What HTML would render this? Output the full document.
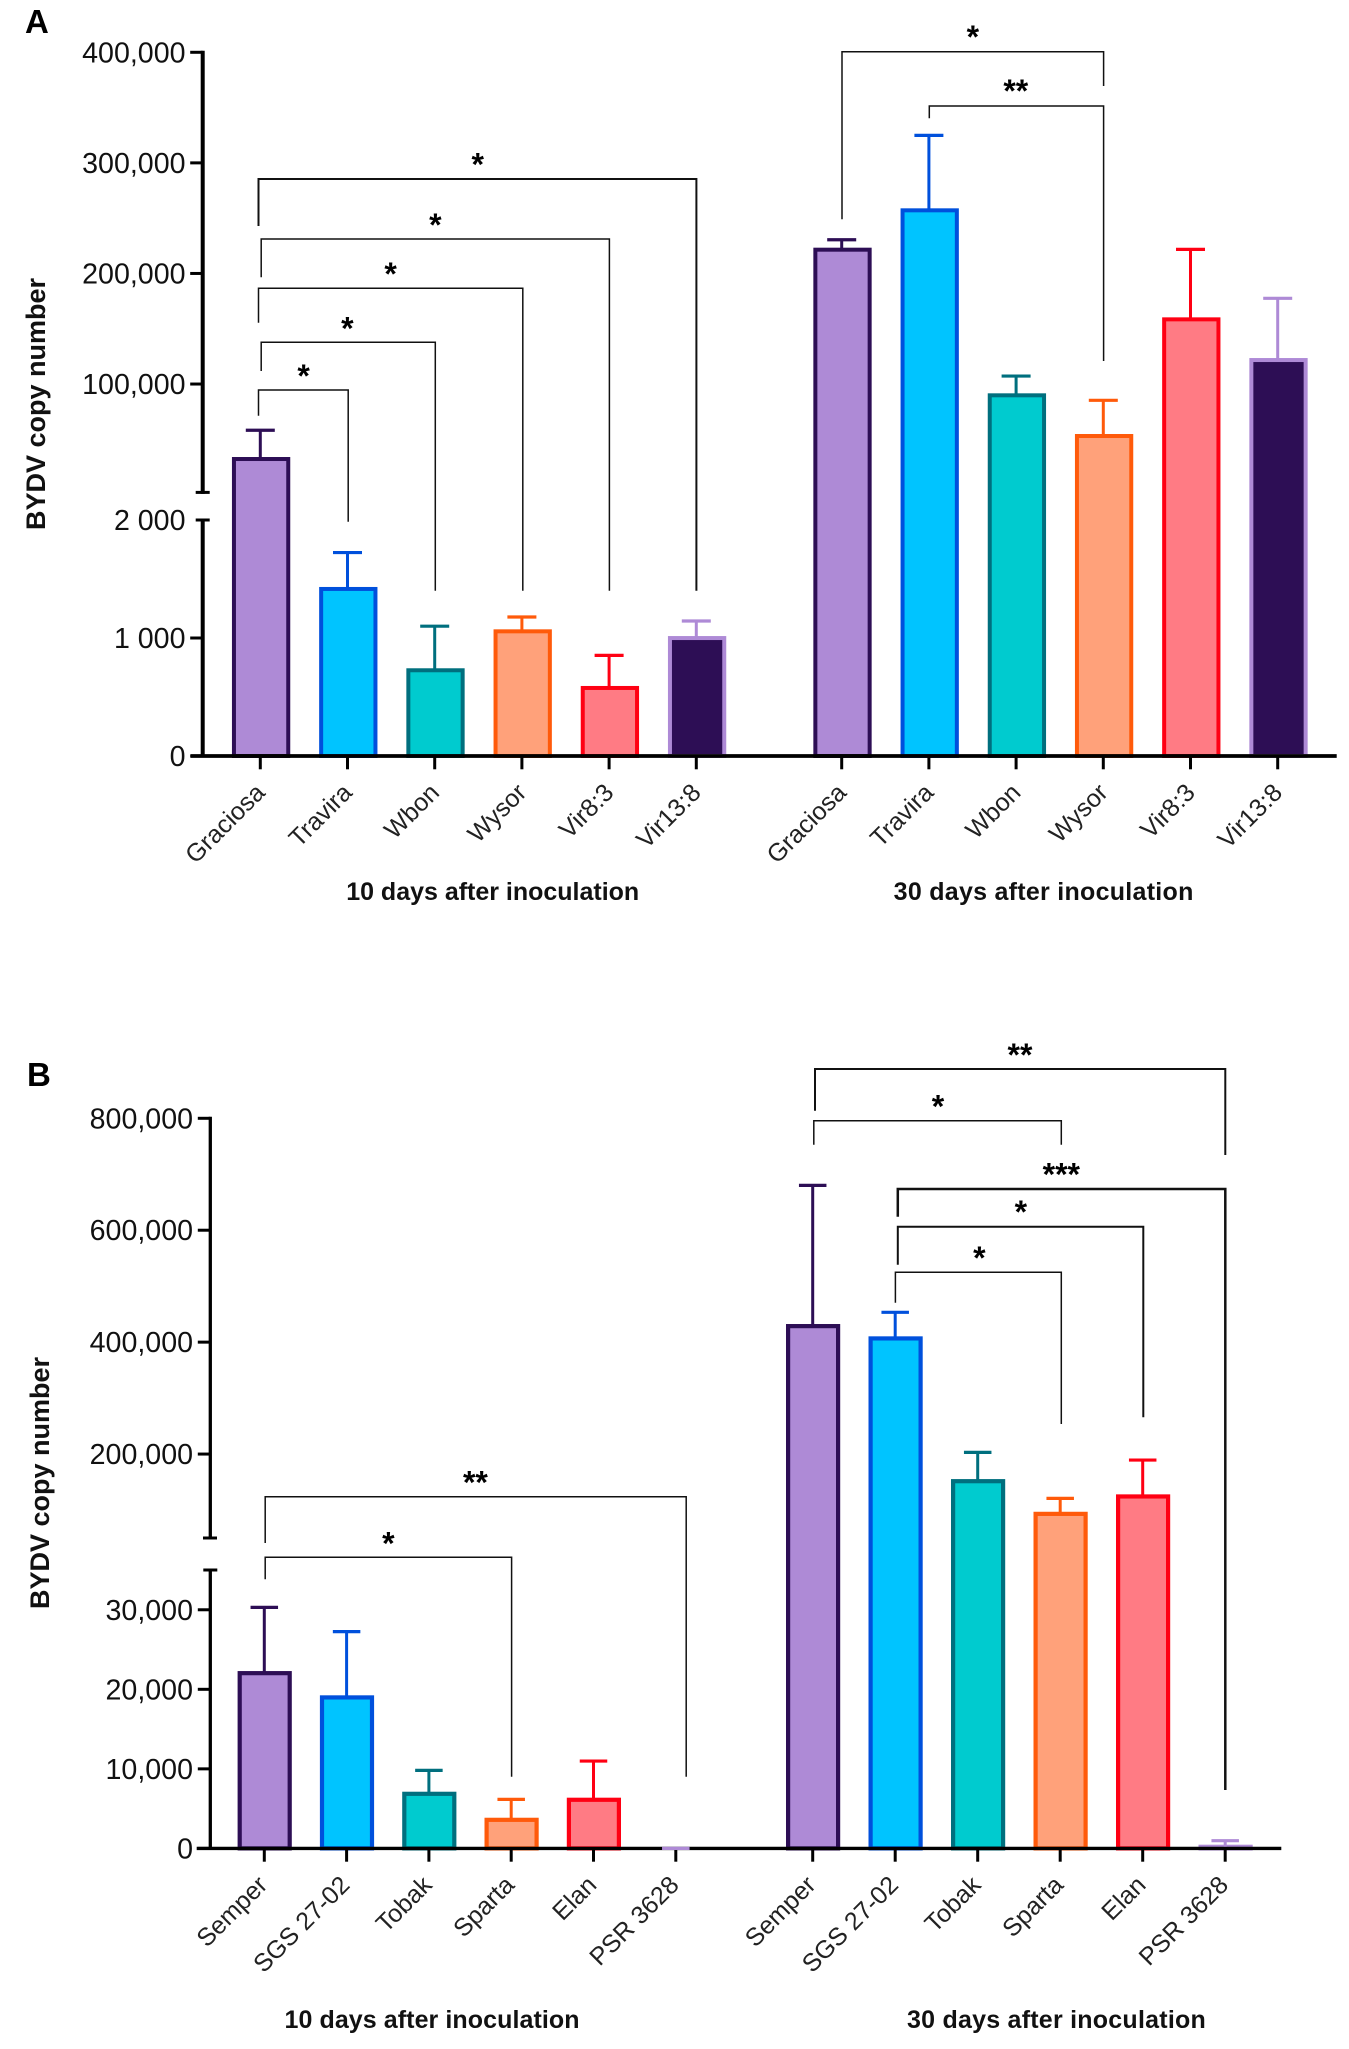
<!DOCTYPE html>
<html lang="en">
<head>
<meta charset="utf-8">
<title>BYDV copy number</title>
<style>
html,body{margin:0;padding:0;background:#fff;}
svg{display:block;font-family:"Liberation Sans",sans-serif;}
.tick{font-size:28.6px;fill:#111;}
.cat{font-size:25px;fill:#222;}
.ttl{font-size:25px;font-weight:bold;fill:#111;}
.yt{font-size:27px;font-weight:bold;fill:#111;}
.let{font-size:33px;font-weight:bold;fill:#000;}
.star{font-size:32px;font-weight:bold;fill:#000;}
</style>
</head>
<body>
<svg id="fig" xmlns="http://www.w3.org/2000/svg" width="1349" height="2049" viewBox="0 0 1349 2049">
  <rect x="0" y="0" width="1349" height="2049" fill="#fff"/>
  <text class="let" x="25" y="33">A</text>
  <text class="let" x="27" y="1086">B</text>
  <text class="yt" text-anchor="middle" transform="translate(45,404) rotate(-90)">BYDV copy number</text>
  <text class="yt" text-anchor="middle" transform="translate(49,1483) rotate(-90)">BYDV copy number</text>
  <text class="ttl" text-anchor="middle" x="492.7" y="900" textLength="293" lengthAdjust="spacing">10 days after inoculation</text>
  <text class="ttl" text-anchor="middle" x="1043.5" y="900" textLength="299.7" lengthAdjust="spacing">30 days after inoculation</text>
  <text class="ttl" text-anchor="middle" x="432" y="2028" textLength="295" lengthAdjust="spacing">10 days after inoculation</text>
  <text class="ttl" text-anchor="middle" x="1056.4" y="2028" textLength="298.8" lengthAdjust="spacing">30 days after inoculation</text>
</svg>
<script>
// Panel A data
const panelACategories = ['Graciosa', 'Travira', 'Wbon', 'Wysor', 'Vir8:3', 'Vir13:8'];
const panelA10dMeans = [33100, 1424, 735, 1065, 585, 1008];
const panelA10dErrorTops = [58200, 1724, 1100, 1178, 853, 1144];
const panelA30dMeans = [222400, 258000, 90700, 53900, 159400, 122600];
const panelA30dErrorTops = [230500, 324900, 107200, 85300, 221800, 177500];
const panelAUpperTicks = [400000, 300000, 200000, 100000];
const panelAUpperTickLabels = ['400,000', '300,000', '200,000', '100,000'];
const panelALowerTicks = [2000, 1000, 0];
const panelALowerTickLabels = ['2 000', '1 000', '0'];

// Panel B data
const panelBCategories = ['Semper', 'SGS 27-02', 'Tobak', 'Sparta', 'Elan', 'PSR 3628'];
const panelB10dMeans = [22170, 19120, 7000, 3730, 6250, 0];
const panelB10dErrorTops = [30300, 27250, 9810, 6160, 10980, 0];
const panelB30dMeans = [430600, 408600, 153500, 95100, 126200, 340];
const panelB30dErrorTops = [680200, 453300, 203000, 120800, 189300, 970];
const panelBUpperTicks = [800000, 600000, 400000, 200000];
const panelBUpperTickLabels = ['800,000', '600,000', '400,000', '200,000'];
const panelBLowerTicks = [35000, 30000, 20000, 10000, 0];
const panelBLowerTickLabels = ['', '30,000', '20,000', '10,000', '0'];

const fills = ['#AE8AD6', '#00C4FF', '#00CBCF', '#FFA17A', '#FF7B84', '#2D0E55'];
const strokes = ['#2D0E55', '#0050DC', '#006F7E', '#FF5A0A', '#FF0013', '#AE8AD6'];

const svg = document.getElementById('fig');
const NS = 'http://www.w3.org/2000/svg';

function mk(tag, attrs) {
  const n = document.createElementNS(NS, tag);
  for (const k in attrs) n.setAttribute(k, attrs[k]);
  svg.appendChild(n);
  return n;
}
function linear(d0, d1, r0, r1) {
  return v => r0 + (v - d0) * (r1 - r0) / (d1 - d0);
}
function slug(s) {
  return s.toLowerCase().replace(/[^a-z0-9]+/g, '-');
}

function yScaleA(v) {
  return v <= 2000 ? linear(0, 2000, 756, 520)(v) : linear(2000, 400000, 492.4, 52.3)(v);
}
function yScaleB(v) {
  return v <= 35000 ? linear(0, 35000, 1848.4, 1570)(v) : linear(50000, 800000, 1538, 1118.3)(v);
}

function drawBars(pfx, cats, means, y, xOf, o) {
  cats.forEach((c, i) => {
    const x = xOf(i) + o.barDx;
    const yTop = y(means[i]) - 1;
    const bar = mk('rect', {x: x - o.barW / 2 + o.sw / 2, y: yTop + o.sw / 2, width: o.barW - o.sw, height: Math.max(0, o.base - yTop - o.sw / 2), fill: fills[i], stroke: strokes[i], 'stroke-width': o.sw});
    
    
  });
}

function drawErrors(pfx, cats, means, tops, y, xOf, o) {
  cats.forEach((c, i) => {
    const x = xOf(i);
    const yTop = y(means[i]);
    const yCap = y(tops[i]);
    const col = strokes[i];
    const ln = mk('line', {x1: x, x2: x, y1: yTop + 1, y2: yCap, stroke: col, 'stroke-width': 3});
    
    
    const cap = mk('line', {x1: x - o.capW / 2, x2: x + o.capW / 2, y1: yCap, y2: yCap, stroke: col, 'stroke-width': 3.2});
    
    
  });
}

function drawXTicks(pfx, cats, xOf, o) {
  cats.forEach((c, i) => {
    const x = xOf(i);
    const t = mk('line', {x1: x, x2: x, y1: o.base, y2: o.base + 13.3, stroke: '#000', 'stroke-width': 3});
    
    
    const lab = mk('text', {class: 'cat', 'text-anchor': 'end', transform: 'translate(' + (x + o.labDx) + ',' + (o.base + 38) + ') rotate(-45)'});
    lab.textContent = c;
    
    
  });
}

function drawYAxis(pfx, ticks, labels, y, o, breakVals) {
  ticks.forEach((v, i) => {
    const yy = y(v);
    const isBreak = breakVals.indexOf(v) >= 0;
    const x1 = isBreak ? o.axisX - 7 : o.axisX - 12.5;
    const x2 = isBreak ? o.axisX + 7 : o.axisX;
    const t = mk('line', {x1: x1, x2: x2, y1: yy, y2: yy, stroke: '#000', 'stroke-width': 3});
    
    
    if (labels[i]) {
      const lab = mk('text', {class: 'tick', 'text-anchor': 'end', x: o.labX, y: yy + 10});
      lab.textContent = labels[i];
      
      
    }
  });
}

function bracket(name, x1, x2, top, leftEnd, rightEnd, stars, sx, sy, w) {
  const p = mk('path', {d: 'M' + x1 + ' ' + leftEnd + 'V' + top + 'H' + x2 + 'V' + rightEnd, fill: 'none', stroke: '#111', 'stroke-width': w || 1.5});
  
  
  const s = mk('text', {class: 'star', 'text-anchor': 'middle', x: sx, y: sy + 15.5});
  s.textContent = stars;
  
  
}

// ---------- Panel A ----------
const optA = {base: 756, axisX: 202.7, labX: 185.5, barW: 58.3, sw: 4, capW: 29, labDx: 6, barDx: 0.8};
const xA10 = i => 260.3 + i * 87.2;
const xA30 = i => 841.7 + i * 87.2;
drawBars('panel-a-10d', panelACategories, panelA10dMeans, yScaleA, xA10, optA);
drawBars('panel-a-30d', panelACategories, panelA30dMeans, yScaleA, xA30, optA);

const aUp = mk('line', {x1: 202.7, x2: 202.7, y1: yScaleA(400000) - 1.5, y2: yScaleA(2000.001) + 1.5, stroke: '#000', 'stroke-width': 4});


const aLo = mk('line', {x1: 202.7, x2: 202.7, y1: yScaleA(2000) - 1.5, y2: 757, stroke: '#000', 'stroke-width': 4});


const aBrk = mk('line', {x1: 195.7, x2: 209.7, y1: yScaleA(2000.001), y2: yScaleA(2000.001), stroke: '#000', 'stroke-width': 3});


const aX = mk('line', {x1: 190.6, x2: 1336.7, y1: 756, y2: 756, stroke: '#000', 'stroke-width': 3.8});


drawYAxis('panel-a', panelAUpperTicks, panelAUpperTickLabels, yScaleA, optA, []);
drawYAxis('panel-a', panelALowerTicks, panelALowerTickLabels, yScaleA, optA, [2000]);
drawXTicks('panel-a-10d', panelACategories, xA10, optA);
drawXTicks('panel-a-30d', panelACategories, xA30, optA);
drawErrors('panel-a-10d', panelACategories, panelA10dMeans, panelA10dErrorTops, yScaleA, xA10, optA);
drawErrors('panel-a-30d', panelACategories, panelA30dMeans, panelA30dErrorTops, yScaleA, xA30, optA);

bracket('panel-a-10d-graciosa-vir13', 258.5, 696.4, 179, 226, 590.7, '*', 477.7, 160, 2);
bracket('panel-a-10d-graciosa-vir8', 261.2, 609.4, 239, 277.3, 590.7, '*', 435.3, 220.7);
bracket('panel-a-10d-graciosa-wysor', 258.5, 522.8, 288.3, 322.7, 590.7, '*', 390.6, 269.3);
bracket('panel-a-10d-graciosa-wbon', 261.2, 435.3, 342.3, 371, 590.7, '*', 347.3, 324);
bracket('panel-a-10d-graciosa-travira', 258.5, 348.2, 390, 415.7, 521.7, '*', 303.6, 371.7);
bracket('panel-a-30d-graciosa-wysor', 842, 1103.6, 51.7, 219.3, 86, '*', 972.8, 32.7);
bracket('panel-a-30d-travira-wysor', 929.3, 1103.6, 106, 118.3, 361, '**', 1015.8, 86.7);

// ---------- Panel B ----------
const optB = {base: 1848.4, axisX: 210.3, labX: 193, barW: 54.2, sw: 4.2, capW: 27.5, labDx: 4.5, barDx: 0.4};
const xB10 = i => 264.3 + i * 82.3;
const xB30 = i => 812.7 + i * 82.5;
drawBars('panel-b-10d', panelBCategories, panelB10dMeans, yScaleB, xB10, optB);
drawBars('panel-b-30d', panelBCategories, panelB30dMeans, yScaleB, xB30, optB);

const bUp = mk('line', {x1: 210.3, x2: 210.3, y1: yScaleB(800000) - 1.5, y2: yScaleB(50000) + 1.5, stroke: '#000', 'stroke-width': 3.3});


const bLo = mk('line', {x1: 210.3, x2: 210.3, y1: yScaleB(35000) - 1.5, y2: 1849, stroke: '#000', 'stroke-width': 3.3});


const bBrk = mk('line', {x1: 203, x2: 217, y1: yScaleB(50000), y2: yScaleB(50000), stroke: '#000', 'stroke-width': 3});


const bX = mk('line', {x1: 196.7, x2: 1281.3, y1: 1848.4, y2: 1848.4, stroke: '#000', 'stroke-width': 3.4});


drawYAxis('panel-b', panelBUpperTicks, panelBUpperTickLabels, yScaleB, optB, []);
drawYAxis('panel-b', panelBLowerTicks, panelBLowerTickLabels, yScaleB, optB, [35000]);
drawXTicks('panel-b-10d', panelBCategories, xB10, optB);
drawXTicks('panel-b-30d', panelBCategories, xB30, optB);
drawErrors('panel-b-10d', panelBCategories, panelB10dMeans, panelB10dErrorTops, yScaleB, xB10, optB);
drawErrors('panel-b-30d', panelBCategories, panelB30dMeans, panelB30dErrorTops, yScaleB, xB30, optB);

bracket('panel-b-10d-semper-psr', 265.2, 686.2, 1496.7, 1543, 1776.7, '**', 475.4, 1478);
bracket('panel-b-10d-semper-sparta', 265.2, 511.6, 1557.3, 1579.3, 1776.7, '*', 388.4, 1539);
bracket('panel-b-30d-semper-psr', 815, 1225.3, 1069, 1110.7, 1155, '**', 1020, 1050.7, 2);
bracket('panel-b-30d-semper-elan', 813.8, 1061.3, 1120.7, 1144.7, 1144.7, '*', 938, 1102);
bracket('panel-b-30d-sgs-psr', 897.8, 1225.3, 1189, 1216.7, 1790, '***', 1061.3, 1170, 2.5);
bracket('panel-b-30d-sgs-elan', 897.8, 1143.3, 1226.7, 1264.7, 1417.3, '*', 1020.8, 1207.7, 2);
bracket('panel-b-30d-sgs-sparta', 895.4, 1061.3, 1272.3, 1302.7, 1424, '*', 979.4, 1253.3);
</script>
</body>
</html>
